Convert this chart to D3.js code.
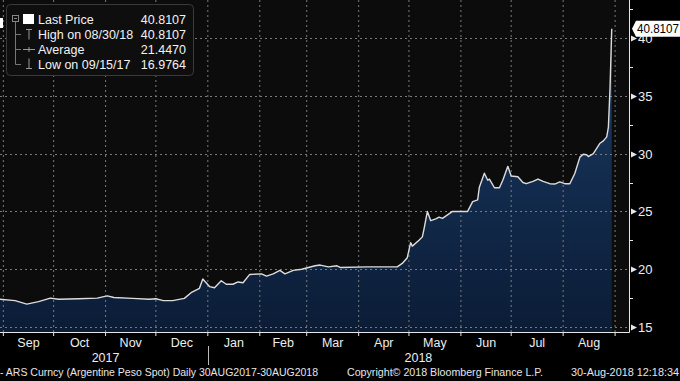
<!DOCTYPE html>
<html>
<head>
<meta charset="utf-8">
<script src="https://cdn.jsdelivr.net/npm/d3@7"></script>
<style>
  body { margin: 0; background: #000; }
  svg { display: block; font-family: "Liberation Sans", Arial, sans-serif; }
</style>
</head>
<body>
<svg id="chart"></svg>
<script>
// ARS spot, daily closes
const dates = [
  "2017-08-30","2017-09-08","2017-09-15","2017-09-22","2017-09-29","2017-10-04","2017-10-16",
  "2017-10-27","2017-11-02","2017-11-06","2017-11-17","2017-11-27","2017-12-01","2017-12-05",
  "2017-12-11","2017-12-18","2017-12-22","2017-12-27","2017-12-29","2018-01-02","2018-01-05",
  "2018-01-09","2018-01-12","2018-01-16","2018-01-19","2018-01-22","2018-01-26","2018-02-02",
  "2018-02-05","2018-02-09","2018-02-13","2018-02-16","2018-02-21","2018-02-26","2018-03-02",
  "2018-03-06","2018-03-09","2018-03-14","2018-03-19","2018-03-21","2018-04-06","2018-04-10",
  "2018-04-18","2018-04-24","2018-04-27","2018-04-30","2018-05-02","2018-05-03","2018-05-07",
  "2018-05-09","2018-05-10","2018-05-12","2018-05-14","2018-05-17","2018-05-19","2018-05-21",
  "2018-05-27","2018-06-05","2018-06-08","2018-06-11","2018-06-12","2018-06-15","2018-06-17",
  "2018-06-18","2018-06-21","2018-06-24","2018-06-26","2018-06-29","2018-07-01","2018-07-05",
  "2018-07-08","2018-07-10","2018-07-14","2018-07-17","2018-07-20","2018-07-24","2018-07-27",
  "2018-07-30","2018-08-02","2018-08-05","2018-08-08","2018-08-11","2018-08-13","2018-08-15",
  "2018-08-16","2018-08-19","2018-08-23","2018-08-25","2018-08-27","2018-08-28","2018-08-29",
  "2018-08-30"
];
const prices = [
  17.40, 17.28, 16.98, 17.20, 17.50, 17.40, 17.45,
  17.50, 17.70, 17.55, 17.48, 17.40, 17.45, 17.30,
  17.28, 17.48, 17.97, 18.35, 19.15, 18.50, 18.40,
  19.00, 18.70, 18.70, 18.90, 18.83, 19.55, 19.60,
  19.40, 19.60, 19.90, 19.60, 19.90, 20.00, 20.15,
  20.30, 20.36, 20.20, 20.30, 20.15, 20.20, 20.20,
  20.20, 20.20, 20.50, 21.00, 22.30, 22.00, 22.50,
  22.80, 23.50, 25.00, 24.20, 24.35, 24.50, 24.40,
  25.00, 25.00, 25.85, 26.00, 27.10, 28.30, 27.70,
  27.80, 27.05, 27.05, 27.70, 28.90, 28.06, 28.00,
  27.50, 27.40, 27.60, 27.80, 27.60, 27.40, 27.37,
  27.55, 27.40, 27.40, 28.30, 29.70, 29.95, 29.90,
  29.75, 30.00, 30.90, 31.10, 31.45, 32.30, 35.80,
  40.8107
];

const legendLabels = ["Last Price", "High on 08/30/18", "Average", "Low on 09/15/17"];
const legendValues = ["40.8107", "40.8107", "21.4470", "16.9764"];
const yTicks = [15, 20, 25, 30, 35, 40];
const yMinorTicks = [17.5, 22.5, 27.5, 32.5, 37.5, 42.5];
const years = ["2017", "2018"];
const lastLabel = "40.8107";
const footLeft = "- ARS Curncy (Argentine Peso Spot)  Daily 30AUG2017-30AUG2018";
const footMid = "Copyright\u00A9 2018 Bloomberg Finance L.P.";
const footRight = "30-Aug-2018 12:18:34";

const width = 680;
const height = 381;
const plotRight = 629;
const plotBottom = 332;

const data = dates.map((d, i) => ({ date: d3.timeParse("%Y-%m-%d")(d), value: prices[i] }));

const svg = d3.select("#chart")
    .attr("width", width)
    .attr("height", height);

svg.append("rect").attr("width", width).attr("height", height).attr("fill", "#000");

// scales
const x = d3.scaleTime()
    .domain([new Date(2017, 7, 30), new Date(2018, 8, 9, 7)])
    .range([0, plotRight]);
const y = d3.scaleLinear()
    .domain([14.57, 43.29])
    .range([plotBottom, 0]);

// plot background
svg.append("rect")
    .attr("x", 0).attr("y", 0)
    .attr("width", plotRight).attr("height", plotBottom)
    .attr("fill", "#0c0c0d");

// area gradient
const grad = svg.append("defs").append("linearGradient")
    .attr("id", "areaGrad")
    .attr("gradientUnits", "userSpaceOnUse")
    .attr("x1", 0).attr("y1", 0).attr("x2", 0).attr("y2", plotBottom);
grad.append("stop").attr("offset", "0%").attr("stop-color", "#234a78");
grad.append("stop").attr("offset", "45%").attr("stop-color", "#142f52");
grad.append("stop").attr("offset", "100%").attr("stop-color", "#0b1c36");

const area = d3.area()
    .x(d => x(d.date))
    .y0(plotBottom)
    .y1(d => y(d.value));

svg.append("path")
    .datum(data)
    .attr("d", area)
    .attr("fill", "url(#areaGrad)");

// grid
const months = d3.timeMonth.range(new Date(2017, 8, 1), new Date(2018, 8, 2));
svg.append("g")
    .selectAll("line")
    .data(months)
    .join("line")
    .attr("x1", d => x(d)).attr("x2", d => x(d))
    .attr("y1", 0).attr("y2", plotBottom)
    .attr("stroke", "#7a7a7a")
    .attr("stroke-width", 1)
    .attr("stroke-dasharray", "2,3");

svg.append("g")
    .selectAll("line")
    .data(yTicks)
    .join("line")
    .attr("x1", 0).attr("x2", plotRight)
    .attr("y1", d => Math.round(y(d)) + 0.5).attr("y2", d => Math.round(y(d)) + 0.5)
    .attr("stroke", "#7a7a7a")
    .attr("stroke-width", 1)
    .attr("stroke-dasharray", "2,3");

// price line
const line = d3.line()
    .x(d => x(d.date))
    .y(d => y(d.value));

svg.append("path")
    .datum(data)
    .attr("d", line)
    .attr("fill", "none")
    .attr("stroke", "#dcdcdc")
    .attr("stroke-width", 1.4)
    .attr("stroke-linejoin", "round");

// axes lines
svg.append("line")
    .attr("x1", 0).attr("x2", plotRight + 0.5)
    .attr("y1", plotBottom + 0.5).attr("y2", plotBottom + 0.5)
    .attr("stroke", "#e6e6e6");
svg.append("line")
    .attr("x1", plotRight + 0.5).attr("x2", plotRight + 0.5)
    .attr("y1", 0).attr("y2", plotBottom + 0.5)
    .attr("stroke", "#e6e6e6");

// right axis ticks
svg.append("g")
    .selectAll("line")
    .data(yMinorTicks)
    .join("line")
    .attr("x1", plotRight).attr("x2", plotRight + 4)
    .attr("y1", d => Math.round(y(d)) + 0.5).attr("y2", d => Math.round(y(d)) + 0.5)
    .attr("stroke", "#e6e6e6");

const yt = svg.append("g")
    .selectAll("g")
    .data(yTicks)
    .join("g")
    .attr("transform", d => `translate(${plotRight},${Math.round(y(d)) + 0.5})`);
yt.append("path")
    .attr("d", "M2,-3 L8,0 L2,3 Z")
    .attr("fill", "#e6e6e6");
yt.append("text")
    .attr("x", 9)
    .attr("dy", "0.36em")
    .attr("fill", "#eeeeee")
    .attr("font-size", 13)
    .text(d => d);

// bottom axis ticks and month labels
svg.append("g")
    .selectAll("line")
    .data(months)
    .join("line")
    .attr("x1", d => x(d)).attr("x2", d => x(d))
    .attr("y1", plotBottom).attr("y2", plotBottom + 4)
    .attr("stroke", "#e6e6e6");

svg.append("g")
    .selectAll("text")
    .data(months.slice(0, 12))
    .join("text")
    .attr("x", d => (x(d) + x(d3.timeMonth.offset(d, 1))) / 2)
    .attr("y", 347)
    .attr("text-anchor", "middle")
    .attr("fill", "#eeeeee")
    .attr("font-size", 12.5)
    .text(d3.timeFormat("%b"));

const yearStart = new Date(2018, 0, 1);
svg.append("g")
    .selectAll("text")
    .data(years)
    .join("text")
    .attr("x", (d, i) => i === 0 ? (x(new Date(2017, 8, 1)) + x(yearStart)) / 2 : (x(yearStart) + plotRight) / 2)
    .attr("y", 362)
    .attr("text-anchor", "middle")
    .attr("fill", "#eeeeee")
    .attr("font-size", 12.5)
    .text(d => d);

svg.append("line")
    .attr("x1", Math.round(x(yearStart)) + 0.5).attr("x2", Math.round(x(yearStart)) + 0.5)
    .attr("y1", 346).attr("y2", 365)
    .attr("stroke", "#bbbbbb");

// last price marker
const ly = y(prices[prices.length - 1]);
svg.append("path")
    .attr("d", `M${plotRight + 3},${ly} L${plotRight + 7},${ly - 8} L${width},${ly - 8} L${width},${ly + 8} L${plotRight + 7},${ly + 8} Z`)
    .attr("fill", "#ffffff");
svg.append("text")
    .attr("x", plotRight + 8)
    .attr("y", ly)
    .attr("dy", "0.36em")
    .attr("fill", "#000")
    .attr("font-size", 12)
    .attr("textLength", 42)
    .attr("lengthAdjust", "spacingAndGlyphs")
    .text(lastLabel);

// footer
const foot = svg.append("g")
    .attr("fill", "#e6e6e6")
    .attr("font-size", 11);
foot.append("text").attr("x", 0).attr("y", 376)
    .attr("textLength", 318).attr("lengthAdjust", "spacingAndGlyphs").text(footLeft);
foot.append("text").attr("x", 347).attr("y", 376)
    .attr("textLength", 196).attr("lengthAdjust", "spacingAndGlyphs").text(footMid);
foot.append("text").attr("x", 571).attr("y", 376)
    .attr("textLength", 108).attr("lengthAdjust", "spacingAndGlyphs").text(footRight);

// legend
svg.append("rect")
    .attr("x", 0).attr("y", 18).attr("width", 3).attr("height", 10)
    .attr("fill", "#ffffff");

const legend = svg.append("g");
legend.append("rect")
    .attr("x", 6.5).attr("y", 4.5)
    .attr("width", 187).attr("height", 71)
    .attr("rx", 4)
    .attr("fill", "#0e0e0f")
    .attr("stroke", "#3a3a3a");

// tree lines
legend.append("path")
    .attr("d", "M15.5,22 V64.5 M15.5,34.5 H21 M15.5,49.5 H21 M15.5,64.5 H21")
    .attr("stroke", "#777")
    .attr("fill", "none");
legend.append("rect")
    .attr("x", 12.5).attr("y", 15.5).attr("width", 6).attr("height", 6)
    .attr("fill", "#0e0e0f").attr("stroke", "#888");
legend.append("line")
    .attr("x1", 14).attr("x2", 17).attr("y1", 18.5).attr("y2", 18.5)
    .attr("stroke", "#888");

const rowY = [19, 34, 49, 64];
legend.append("rect")
    .attr("x", 23).attr("y", 14).attr("width", 11).attr("height", 10)
    .attr("fill", "#ffffff");
legend.append("path")
    .attr("d", "M26,29.5 H32 M29,29.5 V39.5")
    .attr("stroke", "#999").attr("fill", "none");
legend.append("path")
    .attr("d", "M23,49.5 H35 M29,47 V52")
    .attr("stroke", "#999").attr("fill", "none");
legend.append("path")
    .attr("d", "M29,58.5 V68.5 M26,68.5 H32")
    .attr("stroke", "#999").attr("fill", "none");

legend.selectAll("text.lab")
    .data(legendLabels)
    .join("text")
    .attr("class", "lab")
    .attr("x", 38)
    .attr("y", (d, i) => rowY[i])
    .attr("dy", "0.36em")
    .attr("fill", "#f2f2f2")
    .attr("font-size", 12.5)
    .text(d => d);

legend.selectAll("text.val")
    .data(legendValues)
    .join("text")
    .attr("class", "val")
    .attr("x", 186)
    .attr("y", (d, i) => rowY[i])
    .attr("dy", "0.36em")
    .attr("text-anchor", "end")
    .attr("fill", "#f2f2f2")
    .attr("font-size", 12.5)
    .text(d => d);
</script>
</body>
</html>
